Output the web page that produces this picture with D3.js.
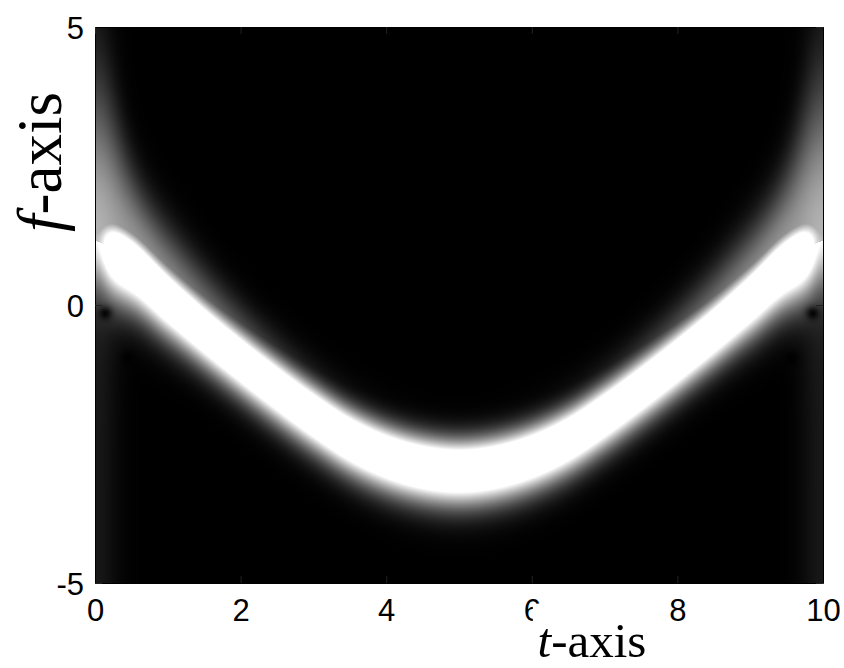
<!DOCTYPE html>
<html>
<head>
<meta charset="utf-8">
<script src="https://cdn.jsdelivr.net/npm/d3@7"></script>
<style>
  html, body { margin: 0; padding: 0; background: #fff; }
  svg { display: block; }
</style>
</head>
<body>
<svg id="chart" width="844" height="668"></svg>
<script>
// ---- Data ----
// Ridge (centre of the bright band) of the time-frequency distribution
const ridgeT = [0, 0.5, 1, 1.5, 2, 2.5, 3, 3.5, 4, 4.5, 5, 5.5, 6, 6.5, 7, 7.5, 8, 8.5, 9, 9.5, 10];
const ridgeF = [1.15, 0.8, 0.17, -0.42, -0.96, -1.47, -1.95, -2.38, -2.69, -2.88, -2.95, -2.88, -2.69, -2.38, -1.95, -1.47, -0.96, -0.42, 0.17, 0.8, 1.15];
// Dark interference spots near the edges (t, f)
const spotT = [0.14, 0.45, 0.69, 9.86, 9.57, 9.31];
const spotF = [-0.15, -0.96, -1.54, -0.15, -0.96, -1.53];
// Axis ticks
const xTicks = [0, 2, 4, 6, 8, 10];
const yTicks = [-5, 0, 5];
const xDomain = [0, 10];
const yDomain = [-5, 5];

// ---- Layout ----
const svg = d3.select("#chart");
const mL = 95, mR = 823, mT = 27, mB = 583;
const x = d3.scaleLinear().domain(xDomain).range([mL, mR]);
const y = d3.scaleLinear().domain(yDomain).range([mB, mT]);

// smooth (Catmull-Rom) reading of the ridge between the sampled points
const tIndex = d3.scaleLinear().domain([ridgeT[0], ridgeT[ridgeT.length - 1]]).range([0, ridgeT.length - 1]).clamp(true);
function ridge(t) {
  const u = tIndex(t);
  const n = ridgeF.length;
  const i = Math.min(n - 2, Math.floor(u));
  const s = u - i;
  const p0 = ridgeF[Math.max(0, i - 1)], p1 = ridgeF[i], p2 = ridgeF[i + 1], p3 = ridgeF[Math.min(n - 1, i + 2)];
  return 0.5 * ((2 * p1) + (-p0 + p2) * s + (2 * p0 - 5 * p1 + 4 * p2 - p3) * s * s + (-p0 + 3 * p1 - 3 * p2 + p3) * s * s * s);
}

// ---- Heat map rendered per pixel through the scales ----
const W = mR - mL, H = mB - mT;
const canvas = document.createElement("canvas");
canvas.width = W; canvas.height = H;
const ctx = canvas.getContext("2d");
const img = ctx.createImageData(W, H);
const spotsPx = spotT.map((t, i) => [x(t), y(spotF[i])]);

for (let i = 0; i < W; i++) {
  const px = mL + i + 0.5;
  const t = x.invert(px);
  const te = Math.min(t, 10 - t);
  const r = ridge(t);
  const edge = Math.exp(-Math.pow(te / 0.3, 2));
  const wide = Math.exp(-Math.pow(te / 1.0, 2));
  const amp = 1 - 0.6 * Math.exp(-Math.pow(te / 0.22, 2));
  const gU = 0.6 * Math.exp(-Math.pow(te / 3, 2));
  const sG = 0.4 + 0.35 * Math.exp(-Math.pow(te / 1.5, 2)) + 0.9 * Math.exp(-Math.pow(te / 0.4, 2));
  const sDn = 0.43 * (1 + 0.4 * wide);
  for (let j = 0; j < H; j++) {
    const py = mT + j + 0.5;
    const f = y.invert(py);
    const d = f - r;
    const s = d > 0 ? 0.35 : sDn;
    let v = 1.6 * amp * Math.exp(-0.5 * (d / s) * (d / s));
    if (d > 0) {
      const dd = Math.max(0, d - 0.3) / sG;
      v = Math.max(v, gU * Math.exp(-0.5 * dd * dd));
      v += 0.1 * edge * Math.exp(-d / 4);
    } else {
      v += 0.09 * edge + 0.25 * wide * Math.exp(d / 0.7) * edge;
    }
    v = Math.min(1, v);
    for (const [sx, sy] of spotsPx) {
      const dx = px - sx, dy = py - sy;
      v *= 1 - 0.9 * Math.exp(-(dx * dx + dy * dy) / 45);
    }
    const c = Math.round(v * 255);
    const k = (j * W + i) * 4;
    img.data[k] = c; img.data[k + 1] = c; img.data[k + 2] = c; img.data[k + 3] = 255;
  }
}
ctx.putImageData(img, 0, 0);

svg.append("image")
  .attr("x", x(xDomain[0])).attr("y", y(yDomain[1]))
  .attr("width", W).attr("height", H)
  .attr("preserveAspectRatio", "none")
  .attr("href", canvas.toDataURL());

// ---- Axes ----
const tickFont = "'Liberation Sans', Arial, sans-serif";
const fmt = d => String(d);
const axB = svg.append("g").attr("transform", `translate(0,${mB})`)
  .call(d3.axisBottom(x).tickValues(xTicks).tickFormat(fmt).tickSizeInner(-7).tickSizeOuter(0).tickPadding(16));
const axL = svg.append("g").attr("transform", `translate(${mL},0)`)
  .call(d3.axisLeft(y).tickValues(yTicks).tickFormat(fmt).tickSizeInner(-7).tickSizeOuter(0).tickPadding(11));
const axT = svg.append("g").attr("transform", `translate(0,${mT})`)
  .call(d3.axisTop(x).tickValues(xTicks).tickFormat("").tickSizeInner(-7).tickSizeOuter(0));
const axR = svg.append("g").attr("transform", `translate(${mR},0)`)
  .call(d3.axisRight(y).tickValues(yTicks).tickFormat("").tickSizeInner(-7).tickSizeOuter(0));
[axB, axL, axT, axR].forEach(a => {
  a.selectAll(".domain").attr("stroke", "#000").attr("stroke-width", 1);
  a.selectAll(".tick line").attr("stroke", "#222").attr("stroke-width", 1);
  a.selectAll("text").attr("font-family", tickFont).attr("font-size", 31).attr("fill", "#000");
});
axL.selectAll("text").attr("dy", "0.36em");

// ---- Axis titles ----
const serif = "'Liberation Serif', 'Times New Roman', serif";
const xt = svg.append("g");
const xtText = xt.append("text")
  .attr("x", 592).attr("y", 657)
  .attr("text-anchor", "middle")
  .attr("font-family", serif).attr("font-size", 49).attr("fill", "#000");
xtText.append("tspan").attr("font-style", "italic").text("t");
xtText.append("tspan").text("-axis");
const bb = xtText.node().getBBox();
xt.insert("rect", "text")
  .attr("x", x(6) + 1).attr("y", 606)
  .attr("width", bb.x + bb.width - x(6)).attr("height", 668 - 606)
  .attr("fill", "#fff");

const yt = svg.append("text")
  .attr("transform", `translate(61,162) rotate(-90)`)
  .attr("text-anchor", "middle")
  .attr("font-family", serif).attr("font-size", 63).attr("fill", "#000");
yt.append("tspan").attr("font-style", "italic").text("f");
yt.append("tspan").text("-axis");
</script>
</body>
</html>
